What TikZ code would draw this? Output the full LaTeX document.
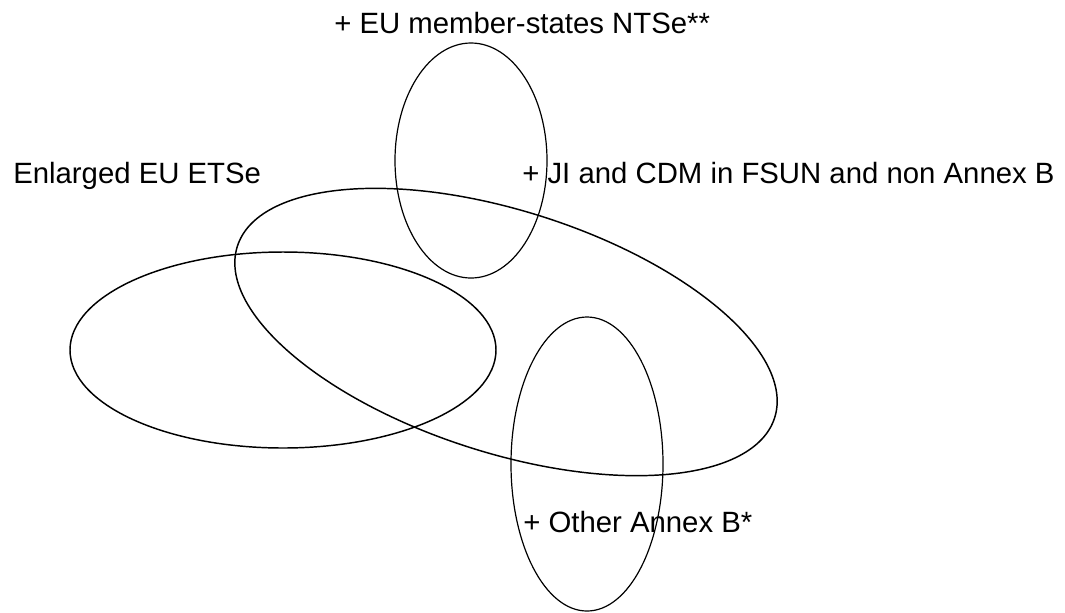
\documentclass[tikz,border=0pt]{standalone}
\usepackage{fontspec}
\setmainfont{Liberation Sans}
\usepackage{tikz}
\usetikzlibrary{shapes}

\begin{document}
\begin{tikzpicture}[x=0.75pt,y=0.75pt,yscale=-1,xscale=1,
  bigset/.style={line width=1.1pt},
  smallset/.style={line width=0.9pt},
  setlabel/.style={anchor=base west,inner sep=0pt,font=\fontsize{22}{26}\selectfont}]
\useasboundingbox (0,0) rectangle (1065,612);

%Shape: Ellipse [enlarged EU ETS]
\draw[bigset] (283,350) ellipse (213 and 98);
%Shape: Ellipse [JI and CDM, tilted]
\draw[bigset,rotate around={17.7:(506,332)}] (506,332) ellipse (282 and 121);
%Shape: Ellipse [member-states NTS]
\draw[smallset] (471,160.5) ellipse (76 and 117.5);
%Shape: Ellipse [other Annex B]
\draw[smallset] (587,464) ellipse (76 and 147);

% Text Node
\draw (334,33) node [setlabel] (ntse) {+ EU member-states NTSe**};
% Text Node
\draw (13,183) node [setlabel] (etse) {Enlarged EU ETSe};
% Text Node
\draw (522,183) node [setlabel] (jicdm) {+ JI and CDM in FSUN and non Annex B};
% Text Node
\draw (523,532) node [setlabel] (annexb) {+ Other Annex B*};

\end{tikzpicture}
\end{document}
